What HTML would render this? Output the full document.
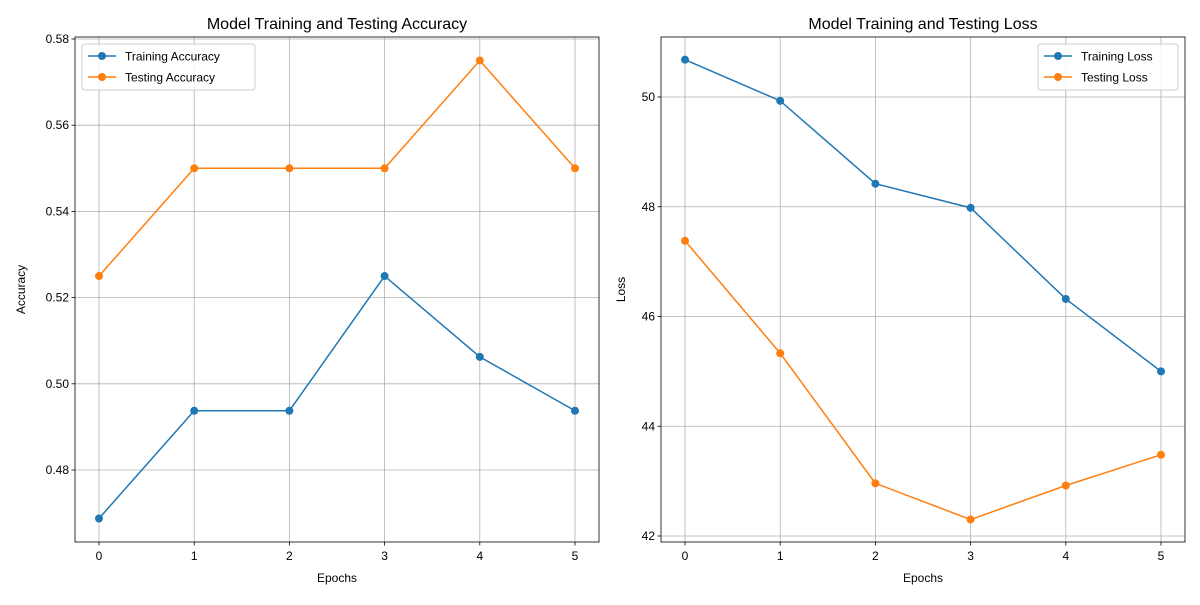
<!DOCTYPE html>
<html><head><meta charset="utf-8"><style>
body{margin:0;background:#fff;}
svg text{font-family:"Liberation Sans","DejaVu Sans",sans-serif;fill:#000;}
</style></head><body>
<svg id="chart" width="1200" height="600" xmlns="http://www.w3.org/2000/svg"></svg>
<script>
const epochs = [0,1,2,3,4,5];
const trainAcc = [0.46875,0.49375,0.49375,0.525,0.50625,0.49375];
const testAcc = [0.525,0.55,0.55,0.55,0.575,0.55];
const trainLoss = [50.68,49.93,48.42,47.98,46.32,45.00];
const testLoss = [47.38,45.33,42.96,42.30,42.92,43.48];
const accTicks = [0.48,0.50,0.52,0.54,0.56,0.58];
const lossTicks = [42,44,46,48,50];
const accTickLabels = ["0.48","0.50","0.52","0.54","0.56","0.58"];
const lossTickLabels = ["42","44","46","48","50"];

const svg = document.getElementById('chart');
const NS = 'http://www.w3.org/2000/svg';
function mk(tag, attrs, parent){const e=document.createElementNS(NS,tag);for(const k in attrs)e.setAttribute(k,attrs[k]);(parent||svg).appendChild(e);return e;}

function panel(cfg){
  const g = mk('g',{});
  
  
  const xs = v => cfg.x0 + (v-0)*(cfg.x5-cfg.x0)/5;
  const ys = v => cfg.yA + (v-cfg.vA)*(cfg.yB-cfg.yA)/(cfg.vB-cfg.vA);
  // grid
  epochs.forEach(e=>{
    const l=mk('line',{x1:xs(e),x2:xs(e),y1:cfg.top,y2:cfg.bot,stroke:'#b0b0b0','stroke-width':0.8},g);
    
    
    const t=mk('line',{x1:xs(e),x2:xs(e),y1:cfg.bot,y2:cfg.bot+3.5,stroke:'#000','stroke-width':0.8},g);
    const tx=mk('text',{x:xs(e),y:cfg.bot+18,'text-anchor':'middle','font-size':12},g);
    tx.textContent=e;
    
    
  });
  cfg.ticks.forEach((v,i)=>{
    const y=ys(v);
    const l=mk('line',{x1:cfg.left,x2:cfg.right,y1:y,y2:y,stroke:'#b0b0b0','stroke-width':0.8},g);
    
    
    mk('line',{x1:cfg.left-3.5,x2:cfg.left,y1:y,y2:y,stroke:'#000','stroke-width':0.8},g);
    const tx=mk('text',{x:cfg.left-6,y:y+4,'text-anchor':'end','font-size':12},g);
    tx.textContent=cfg.tickLabels[i];
    
    
  });
  const colors=['#1f77b4','#ff7f0e'];
  cfg.series.forEach((s,si)=>{
    const pts=s.map((v,i)=>xs(epochs[i])+','+ys(v)).join(' ');
    const pl=mk('polyline',{points:pts,fill:'none',stroke:colors[si],'stroke-width':1.5},g);
    
    
    s.forEach((v,i)=>{
      const c=mk('circle',{cx:xs(epochs[i]),cy:ys(v),r:4,fill:colors[si]},g);
      
      
    });
  });
  const box=mk('rect',{x:cfg.left,y:cfg.top,width:cfg.right-cfg.left,height:cfg.bot-cfg.top,fill:'none',stroke:'#000','stroke-width':0.8},g);
  
  
  const title=mk('text',{x:(cfg.left+cfg.right)/2,y:cfg.top-8,'text-anchor':'middle','font-size':16},g);
  title.textContent=cfg.title;
  
  
  const xl=mk('text',{x:(cfg.left+cfg.right)/2,y:582,'text-anchor':'middle','font-size':12},g);
  xl.textContent='Epochs';
  
  
  const yl=mk('text',{x:0,y:0,'text-anchor':'middle','font-size':12,transform:`translate(${cfg.ylx},${(cfg.top+cfg.bot)/2}) rotate(-90)`},g);
  yl.textContent=cfg.ylabel;
  
  
  // legend
  const lg=mk('g',{},g);
  
  
  mk('rect',{x:cfg.lgx,y:44,width:cfg.lgw,height:46,rx:3,fill:'#fff','fill-opacity':0.8,stroke:'#ccc'},lg);
  cfg.legendLabels.forEach((lab,i)=>{
    const y=56+i*21;
    mk('line',{x1:cfg.lgx+6,x2:cfg.lgx+34,y1:y,y2:y,stroke:colors[i],'stroke-width':1.5},lg);
    mk('circle',{cx:cfg.lgx+20,cy:y,r:4,fill:colors[i]},lg);
    const t=mk('text',{x:cfg.lgx+43,y:y+4.5,'font-size':12},lg);
    t.textContent=lab;
    
    
  });
}

panel({name:'accuracy-chart',left:75,right:599,top:37,bot:542,x0:99,x5:575,vA:0.48,yA:470,vB:0.58,yB:39,
  ticks:accTicks,tickLabels:accTickLabels,series:[trainAcc,testAcc],seriesNames:['training-accuracy','testing-accuracy'],
  title:'Model Training and Testing Accuracy',ylabel:'Accuracy',ylx:25,lgx:82,lgw:173,legendLabels:['Training Accuracy','Testing Accuracy']});
panel({name:'loss-chart',left:661,right:1185,top:37,bot:542,x0:685,x5:1161,vA:42,yA:536,vB:50,yB:97,
  ticks:lossTicks,tickLabels:lossTickLabels,series:[trainLoss,testLoss],seriesNames:['training-loss','testing-loss'],
  title:'Model Training and Testing Loss',ylabel:'Loss',ylx:625,lgx:1038,lgw:140,legendLabels:['Training Loss','Testing Loss']});
</script>
</body></html>
